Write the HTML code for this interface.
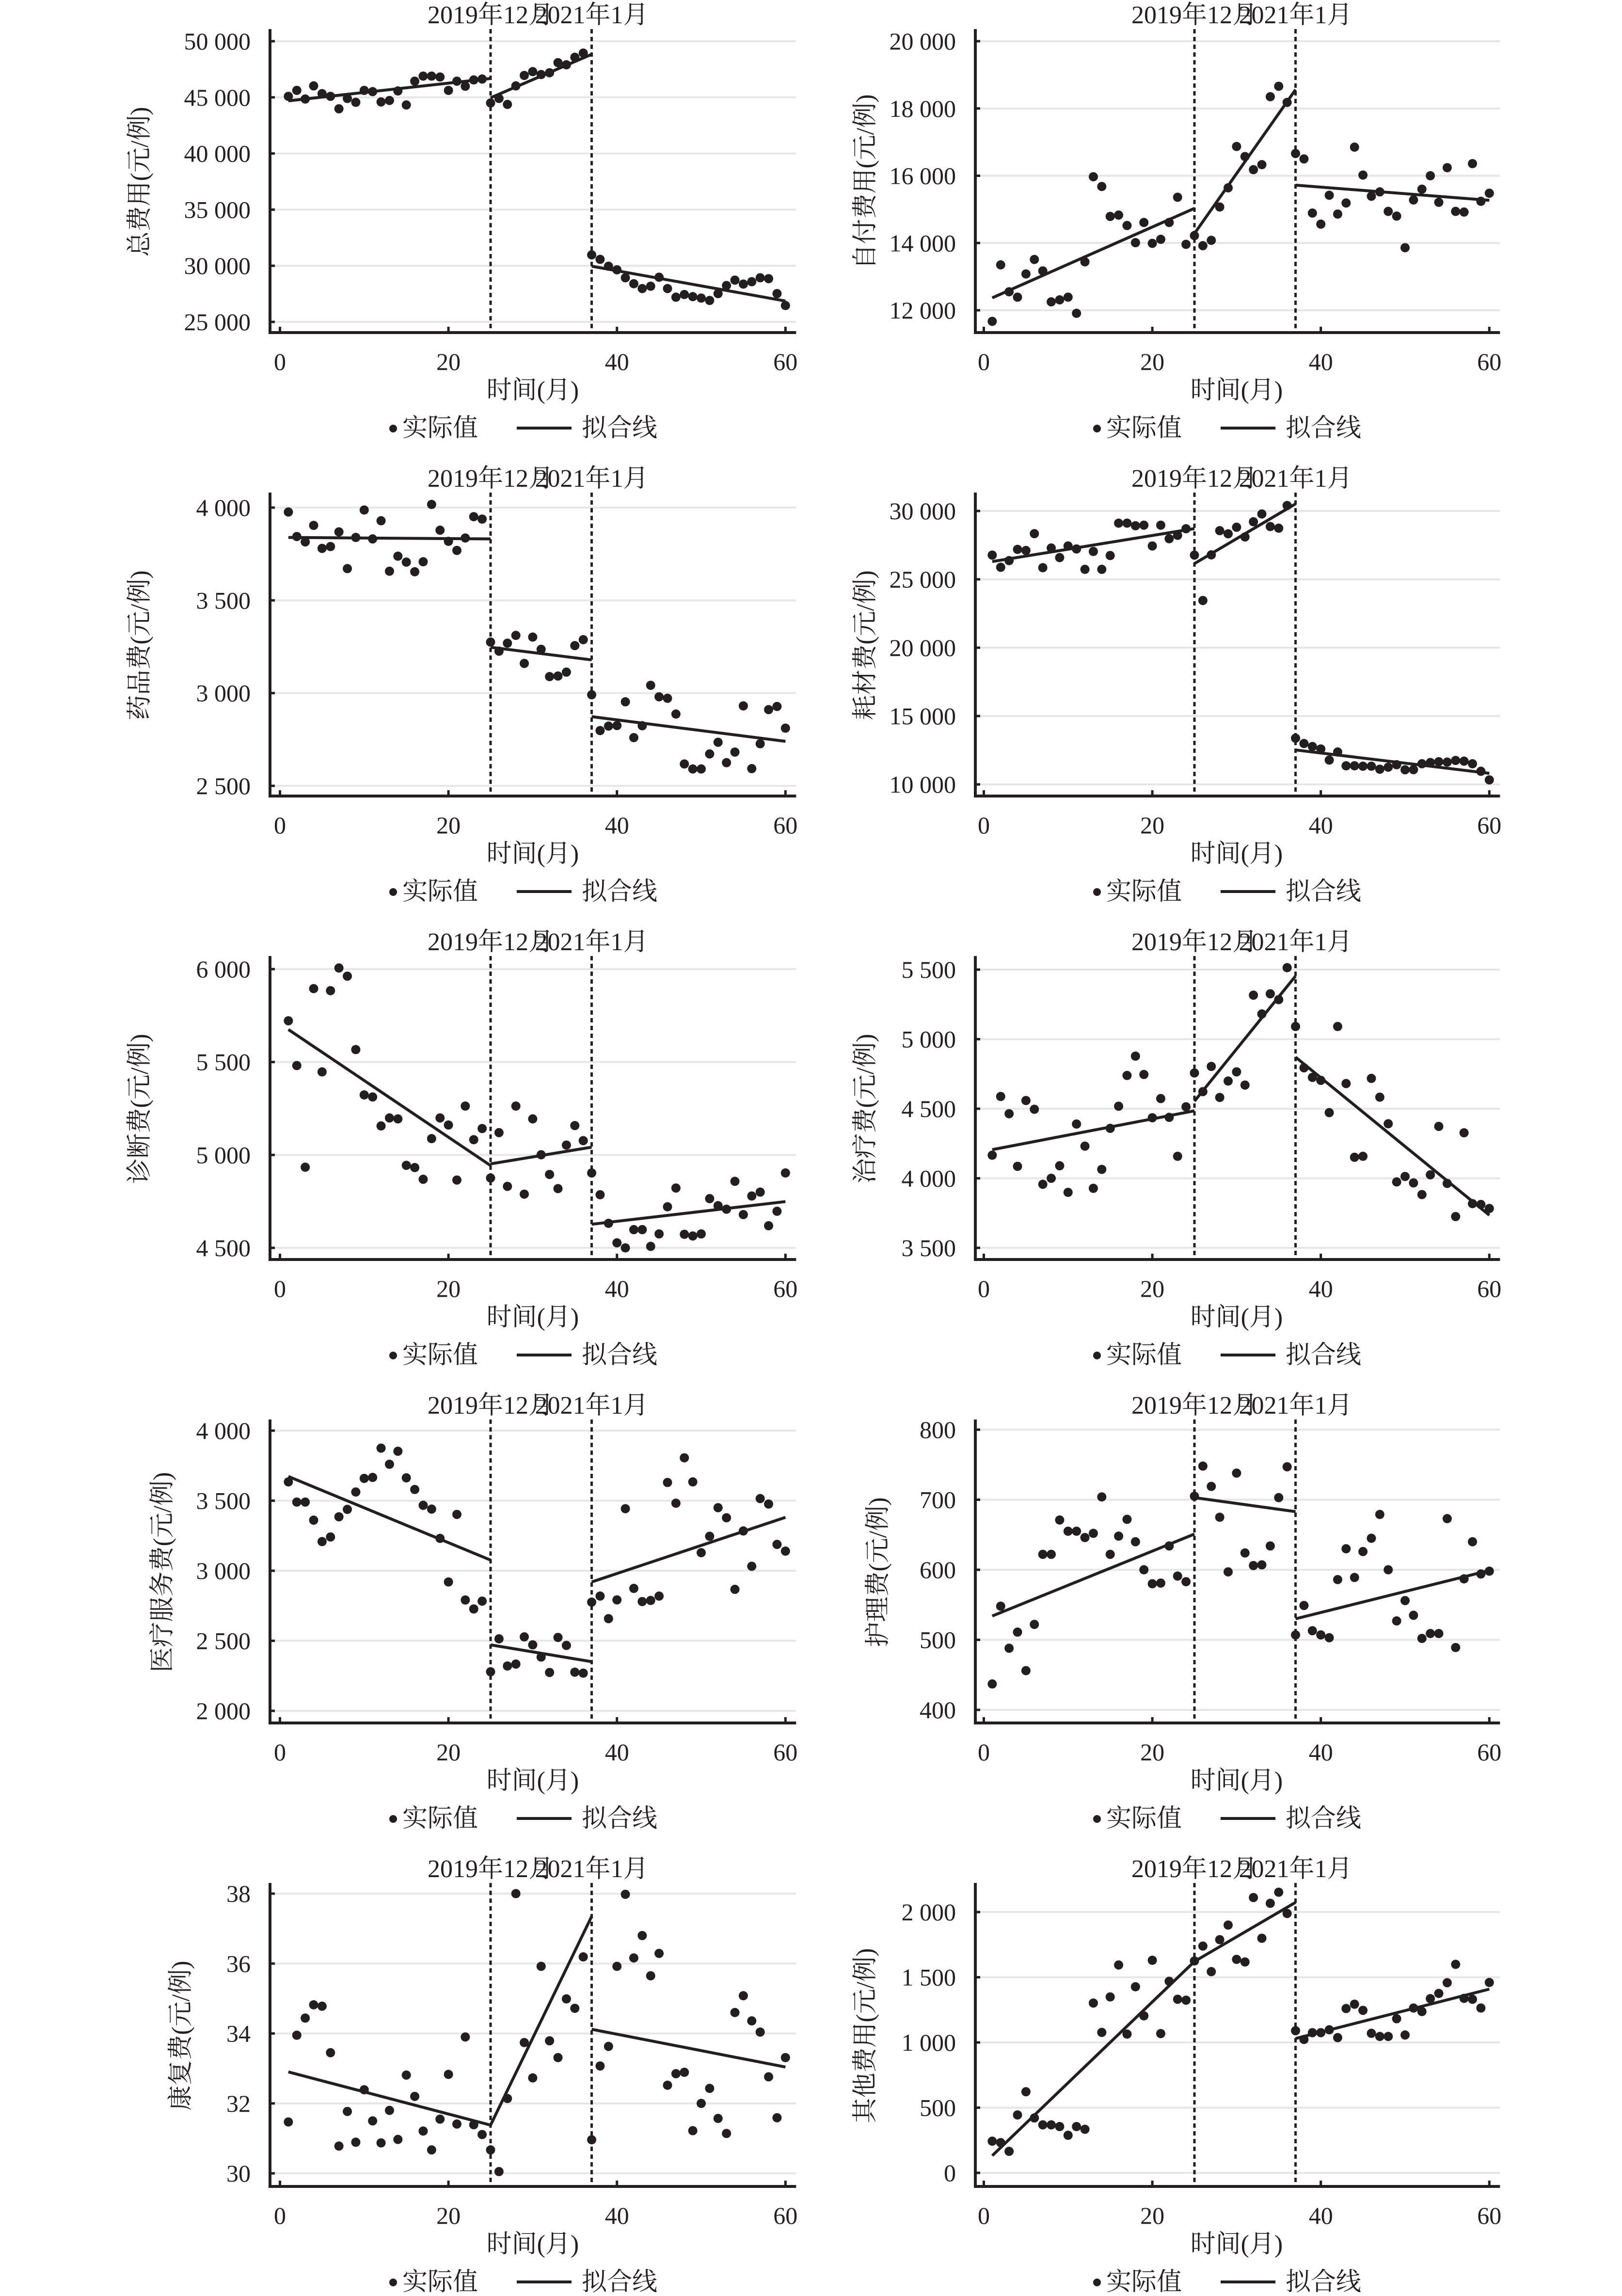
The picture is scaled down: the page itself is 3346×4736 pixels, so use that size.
<!DOCTYPE html>
<html><head><meta charset="utf-8">
<style>
html,body{margin:0;padding:0;background:#fff;}
svg{display:block;}
text{font-family:"Liberation Serif","Noto Serif CJK SC",serif;fill:#231f20;}
</style></head>
<body>
<svg id="chart" width="3346" height="4736" viewBox="0 0 3346 4736" xmlns="http://www.w3.org/2000/svg"></svg>
<script>
const months = [1,2,3,4,5,6,7,8,9,10,11,12,13,14,15,16,17,18,19,20,21,22,23,24,25,26,27,28,29,30,31,32,33,34,35,36,37,38,39,40,41,42,43,44,45,46,47,48,49,50,51,52,53,54,55,56,57,58,59,60];
const xTickValues = [0,20,40,60];
const breakMonths = [25,37];
const breakLabels = ["2019年12月","2021年1月"];
const fitSegments = [[1,25],[25,37],[37,60]];

const totalCost = [45090,45620,44850,46020,45330,45090,43980,44900,44560,45620,45510,44590,44720,45570,44320,46440,46890,46890,46810,45620,46440,45990,46550,46630,44500,44900,44370,46020,46950,47290,47030,47190,48090,47900,48570,48940,30970,30570,29960,29640,28930,28400,27970,28180,28980,27970,27200,27440,27250,27120,26910,27520,28240,28720,28370,28580,28930,28850,27520,26460];
const totalFit = [[44690,46680],[44960,48830],[29960,26860]];
const totalTicks = [25000,30000,35000,40000,45000,50000];

const selfPay = [11670,13350,12550,12390,13080,13510,13170,12250,12310,12390,11910,13440,15970,15680,14790,14830,14520,14010,14610,13990,14110,14610,15360,13960,14220,13920,14080,15070,15640,16870,16570,16180,16330,18350,18660,18180,16660,16500,14890,14560,15420,14860,15190,16850,16020,15390,15520,14940,14800,13860,15280,15600,16000,15210,16240,14940,14920,16360,15240,15480];
const selfPayFit = [[12370,15030],[14280,18560],[15720,15270]];
const selfPayTicks = [12000,14000,16000,18000,20000];

const drugCost = [3976,3844,3815,3904,3780,3790,3869,3671,3839,3987,3831,3929,3657,3738,3706,3654,3708,4017,3878,3818,3769,3836,3951,3938,3275,3226,3269,3311,3160,3302,3236,3089,3092,3113,3256,3288,2991,2798,2822,2825,2953,2760,2824,3042,2980,2972,2887,2618,2591,2591,2672,2735,2625,2682,2931,2593,2727,2911,2928,2811];
const drugFit = [[3839,3831],[3247,3179],[2873,2740]];
const drugTicks = [2500,3000,3500,4000];

const materialCost = [26770,25880,26370,27190,27110,28340,25850,27290,26590,27440,27220,25730,27040,25730,26740,29110,29110,28920,28960,27440,28960,27970,28220,28700,26770,23450,26790,28560,28330,28810,28100,29210,29780,28860,28740,30400,13380,12990,12770,12590,11780,12370,11360,11360,11330,11330,11110,11260,11440,11070,11080,11510,11600,11660,11630,11750,11700,11510,10960,10330];
const materialFit = [[26300,28710],[26150,30520],[12520,10810]];
const materialTicks = [10000,15000,20000,25000,30000];

const diagCost = [5722,5481,4934,5895,5447,5884,6006,5962,5567,5323,5312,5156,5199,5194,4944,4932,4869,5088,5199,5161,4865,5263,5082,5142,4876,5120,4831,5263,4789,5194,5001,4895,4819,5053,5158,5077,4903,4786,4632,4527,4500,4598,4598,4508,4575,4721,4822,4573,4564,4575,4765,4727,4708,4858,4679,4779,4800,4619,4697,4903];
const diagFit = [[5675,4943],[4952,5042],[4627,4749]];
const diagTicks = [4500,5000,5500,6000];

const treatCost = [4166,4588,4464,4086,4559,4496,3957,4000,4090,3899,4390,4231,3928,4064,4359,4518,4739,4878,4746,4435,4573,4438,4158,4514,4757,4623,4804,4581,4699,4765,4670,5316,5181,5326,5284,5514,5091,4794,4725,4704,4472,5091,4681,4151,4158,4718,4583,4392,3974,4013,3967,3883,4025,4373,3963,3725,4327,3818,3812,3783];
const treatFit = [[4206,4485],[4554,5454],[4871,3735]];
const treatTicks = [3500,4000,4500,5000,5500];

const serviceCost = [3634,3490,3490,3361,3208,3241,3385,3438,3562,3659,3666,3875,3760,3853,3663,3580,3467,3440,3231,2920,3402,2791,2727,2783,2279,2514,2320,2334,2528,2471,2384,2274,2524,2467,2276,2269,2776,2819,2658,2792,3443,2874,2780,2788,2819,3630,3482,3806,3634,3129,3246,3450,3378,2867,3284,3032,3515,3476,3188,3140];
const serviceFit = [[3673,3076],[2471,2351],[2920,3381]];
const serviceTicks = [2000,2500,3000,3500,4000];

const nursingCost = [437,548,488,511,456,522,622,622,671,655,655,646,652,704,622,648,672,640,600,580,581,634,591,583,705,748,719,675,597,738,624,606,607,634,703,747,507,549,513,507,503,586,630,589,626,645,679,600,527,556,535,502,509,509,673,489,587,640,594,598];
const nursingFit = [[534,651],[703,683],[530,599]];
const nursingTicks = [400,500,600,700,800];

const rehabCost = [31.47,33.95,34.44,34.82,34.78,33.45,30.78,31.77,30.89,32.39,31.50,30.87,31.80,30.97,32.81,32.20,31.21,30.67,31.55,32.83,31.41,33.90,31.39,31.11,30.67,30.05,32.14,38.00,33.74,32.73,35.92,33.79,33.31,34.99,34.72,36.19,30.96,33.07,33.63,35.92,37.98,36.16,36.80,35.65,36.29,32.52,32.85,32.89,31.22,32.00,32.43,31.57,31.14,34.60,35.08,34.36,34.04,32.76,31.59,33.31];
const rehabFit = [[32.90,31.38],[31.38,37.35],[34.12,33.04]];
const rehabTicks = [30,32,34,36,38];

const otherCost = [243,232,165,444,622,421,368,368,355,288,355,334,1302,1077,1349,1594,1064,1427,1204,1630,1068,1469,1331,1324,1625,1739,1543,1788,1900,1637,1617,2111,1799,2067,2152,1989,1090,1023,1075,1075,1097,1037,1260,1293,1246,1070,1046,1046,1182,1057,1264,1237,1336,1376,1458,1599,1338,1331,1264,1460];
const otherFit = [[132,1621],[1621,2074],[1030,1409]];
const otherTicks = [0,500,1000,1500,2000];

// layout (pixels) per panel
const panels = [
 {key:'total-cost', title:'总费用(元/例)', col:0,row:0, vals:totalCost, fit:totalFit, ticks:totalTicks, topPx:85, botPx:664, titleX:293},
 {key:'self-pay', title:'自付费用(元/例)', col:1,row:0, vals:selfPay, fit:selfPayFit, ticks:selfPayTicks, topPx:85, botPx:640, titleX:1790},
 {key:'drug-cost', title:'药品费(元/例)', col:0,row:1, vals:drugCost, fit:drugFit, ticks:drugTicks, topPx:91, botPx:665, titleX:293},
 {key:'material-cost', title:'耗材费(元/例)', col:1,row:1, vals:materialCost, fit:materialFit, ticks:materialTicks, topPx:98, botPx:662, titleX:1790},
 {key:'diagnosis-cost', title:'诊断费(元/例)', col:0,row:2, vals:diagCost, fit:diagFit, ticks:diagTicks, topPx:87, botPx:662, titleX:293},
 {key:'treatment-cost', title:'治疗费(元/例)', col:1,row:2, vals:treatCost, fit:treatFit, ticks:treatTicks, topPx:88, botPx:662, titleX:1790},
 {key:'medical-service-cost', title:'医疗服务费(元/例)', col:0,row:3, vals:serviceCost, fit:serviceFit, ticks:serviceTicks, topPx:83, botPx:661, titleX:340},
 {key:'nursing-cost', title:'护理费(元/例)', col:1,row:3, vals:nursingCost, fit:nursingFit, ticks:nursingTicks, topPx:81, botPx:659, titleX:1816},
 {key:'rehab-cost', title:'康复费(元/例)', col:0,row:4, vals:rehabCost, fit:rehabFit, ticks:rehabTicks, topPx:82, botPx:659, titleX:378},
 {key:'other-cost', title:'其他费用(元/例)', col:1,row:4, vals:otherCost, fit:otherFit, ticks:otherTicks, topPx:120, botPx:658, titleX:1790}
];

const NS = 'http://www.w3.org/2000/svg';
const svg = document.getElementById('chart');
const ROW_H = 956, STEP = 17.38;
const COL_AXIS = [557, 2012], COL_X0 = [577.5, 2029.5];
const AXIS_TOP = 60, AXIS_BOT = 686;

function el(tag, attrs, parent){
  const e = document.createElementNS(NS, tag);
  for (const k in attrs) e.setAttribute(k, attrs[k]);
  parent.appendChild(e);
  return e;
}
function fmt(v){
  const s = String(v);
  return v >= 1000 ? s.slice(0, s.length-3) + ' ' + s.slice(-3) : s;
}

panels.forEach(p => {
  const g = el('g', {transform:'translate(0,' + (p.row*ROW_H) + ')'}, svg);
  
  
  const ax = COL_AXIS[p.col], x0 = COL_X0[p.col];
  const xs = m => x0 + m*STEP;
  const vTop = p.ticks[p.ticks.length-1], vBot = p.ticks[0];
  const ys = v => p.botPx + (v - vBot) * (p.topPx - p.botPx) / (vTop - vBot);
  const xRight = xs(60) + 22;

  // gridlines + y ticks
  p.ticks.forEach(t => {
    const gl = el('line', {x1:ax, x2:xRight, y1:ys(t), y2:ys(t), stroke:'#e6e6e6', 'stroke-width':4}, g);
    
    
    const tk = el('line', {x1:ax, x2:ax+10, y1:ys(t), y2:ys(t), stroke:'#231f20', 'stroke-width':5}, g);
    
    
    const tl = el('text', {x:ax-40, y:ys(t)+17, 'font-size':50, 'text-anchor':'end'}, g);
    tl.textContent = fmt(t);
    
    
  });
  // x ticks
  xTickValues.forEach(t => {
    const tk = el('line', {x1:xs(t), x2:xs(t), y1:AXIS_BOT, y2:AXIS_BOT-12, stroke:'#231f20', 'stroke-width':5}, g);
    
    
    const tl = el('text', {x:xs(t), y:763, 'font-size':50, 'text-anchor':'middle'}, g);
    tl.textContent = String(t);
    
    
  });
  // axes
  const ya = el('line', {x1:ax, x2:ax, y1:AXIS_TOP, y2:AXIS_BOT+3, stroke:'#231f20', 'stroke-width':6}, g);
  
  
  const xa = el('line', {x1:ax-3, x2:xRight, y1:AXIS_BOT, y2:AXIS_BOT, stroke:'#231f20', 'stroke-width':6}, g);
  
  
  // break lines + labels
  breakMonths.forEach((m, i) => {
    const dl = el('line', {x1:xs(m), x2:xs(m), y1:AXIS_TOP, y2:AXIS_BOT, stroke:'#231f20', 'stroke-width':5, 'stroke-dasharray':'9 7'}, g);
    
    
    const lt = el('text', {x:xs(m), y:48, 'font-size':52, 'text-anchor':'middle'}, g);
    lt.textContent = breakLabels[i];
    
    
  });
  // fitted lines
  fitSegments.forEach((s, i) => {
    const fl = el('line', {x1:xs(s[0]), x2:xs(s[1]), y1:ys(p.fit[i][0]), y2:ys(p.fit[i][1]), stroke:'#231f20', 'stroke-width':6}, g);
    
    
  });
  // points
  p.vals.forEach((v, i) => {
    const c = el('circle', {cx:xs(months[i]), cy:ys(v), r:9.5, fill:'#231f20'}, g);
    
    
  });
  // axis titles
  const yt = el('text', {x:p.titleX, y:375, 'font-size':52, 'text-anchor':'middle', transform:'rotate(-90 ' + p.titleX + ' 375)', 'dominant-baseline':'middle'}, g);
  yt.textContent = p.title;
  
  
  const xt = el('text', {x:(xs(0)+xs(60))/2, y:822, 'font-size':52, 'text-anchor':'middle'}, g);
  xt.textContent = '时间(月)';
  
  
  // legend
  const off = p.col === 0 ? 0 : 1452;
  const lg = el('g', {}, g);
  
  
  const ld = el('circle', {cx:811+off, cy:884, r:8, fill:'#231f20'}, lg);
  
  
  const l1 = el('text', {x:830+off, y:900, 'font-size':52}, lg);
  l1.textContent = '实际值';
  
  
  const ll = el('line', {x1:1066+off, x2:1179+off, y1:883, y2:883, stroke:'#231f20', 'stroke-width':6}, lg);
  
  
  const l2 = el('text', {x:1200+off, y:900, 'font-size':52}, lg);
  l2.textContent = '拟合线';
  
  
});
</script>
</body></html>
